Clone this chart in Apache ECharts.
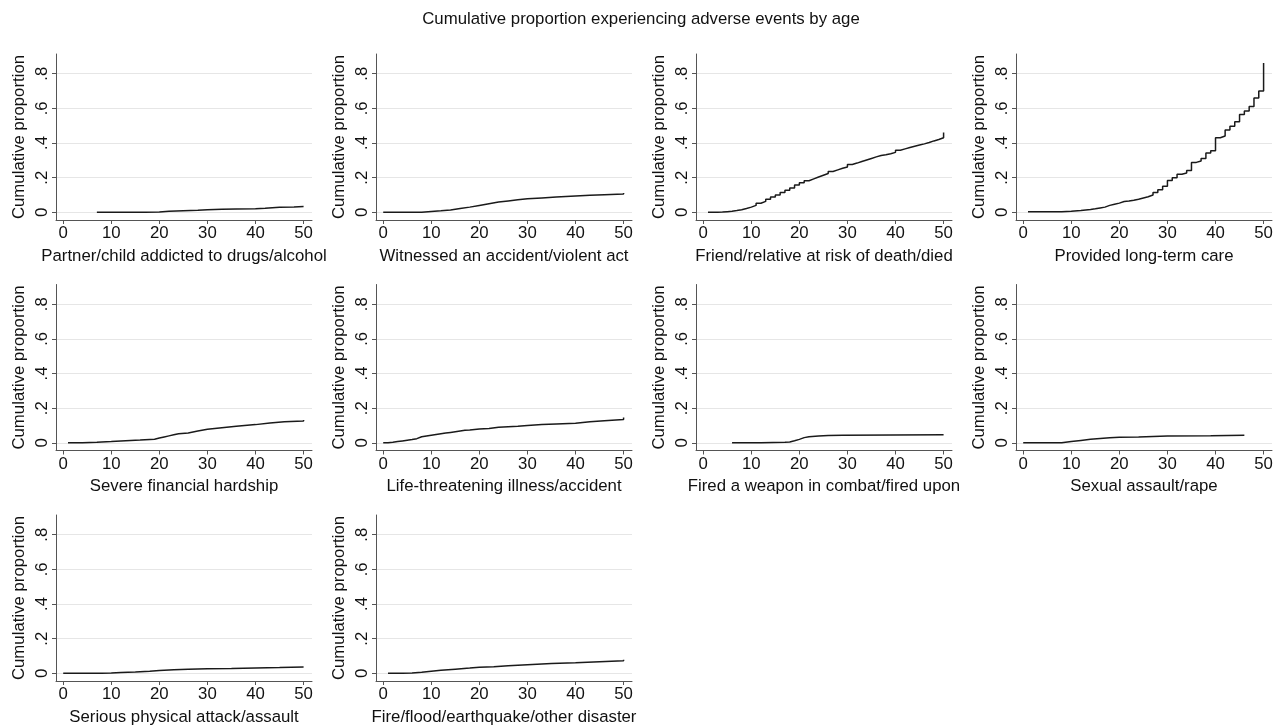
<!DOCTYPE html>
<html>
<head>
<meta charset="utf-8">
<script src="https://cdn.jsdelivr.net/npm/echarts@6/dist/echarts.min.js"></script>
<style>
html,body{margin:0;padding:0;background:#fff;}
#chart{width:1282px;height:728px;}
</style>
</head>
<body>
<div id="chart"></div>
<script>
// ---- data ----
const chartTitle = 'Cumulative proportion experiencing adverse events by age';
const yAxisTitle = 'Cumulative proportion';
const panelTitles = [
  'Partner/child addicted to drugs/alcohol',
  'Witnessed an accident/violent act',
  'Friend/relative at risk of death/died',
  'Provided long-term care',
  'Severe financial hardship',
  'Life-threatening illness/accident',
  'Fired a weapon in combat/fired upon',
  'Sexual assault/rape',
  'Serious physical attack/assault',
  'Fire/flood/earthquake/other disaster'
];
const xTicks = [0, 10, 20, 30, 40, 50];
const yTicks = [0, 0.2, 0.4, 0.6, 0.8];
const yTickLabels = ['0', '.2', '.4', '.6', '.8'];

const agesPartner = [7, 12, 17, 20, 22, 25, 28, 30, 33, 36, 40, 42, 45, 48, 50];
const valsPartner = [0, 0.001, 0.002, 0.006, 0.009, 0.012, 0.015, 0.017, 0.019, 0.021, 0.024, 0.029, 0.031, 0.033, 0.036];

const agesWitnessed = [0, 6, 8, 10, 12, 14, 16, 18, 20, 22, 24, 26, 28, 30, 33, 36, 40, 43, 46, 50];
const valsWitnessed = [0, 0.001, 0.005, 0.009, 0.014, 0.022, 0.03, 0.04, 0.05, 0.059, 0.066, 0.072, 0.078, 0.083, 0.088, 0.094, 0.098, 0.101, 0.105, 0.111];

const agesFriend = [1,2,3,4,5,6,7,8,9,10,11,12,13,14,15,16,17,18,19,20,21,22,23,24,25,26,27,28,29,30,31,32,33,34,35,36,37,38,39,40,41,42,43,44,45,46,47,48,49,50];
const valsFriend = [0,0.001,0.002,0.004,0.006,0.01,0.015,0.022,0.03,0.04,0.052,0.063,0.075,0.088,0.1,0.115,0.128,0.14,0.157,0.17,0.182,0.193,0.204,0.214,0.224,0.236,0.245,0.254,0.262,0.276,0.284,0.293,0.302,0.311,0.32,0.328,0.332,0.338,0.346,0.358,0.366,0.374,0.381,0.388,0.395,0.403,0.412,0.42,0.43,0.46];

const agesCare = [1,5,8,10,12,13,14,15,16,17,18,19,20,21,22,23,24,25,26,27,28,29,30,31,32,33,34,35,36,37,38,39,40,41,42,43,44,45,46,47,48,49,50];
const valsCare = [0.003,0.004,0.006,0.01,0.013,0.016,0.02,0.025,0.03,0.04,0.047,0.053,0.062,0.065,0.07,0.076,0.083,0.09,0.1,0.115,0.13,0.151,0.183,0.2,0.22,0.227,0.242,0.288,0.296,0.31,0.342,0.355,0.43,0.44,0.475,0.496,0.522,0.564,0.585,0.61,0.66,0.70,0.862];

const agesFinancial = [1, 4, 7, 10, 13, 16, 19, 20, 21, 22, 23, 24, 26, 28, 30, 33, 36, 40, 43, 46, 50];
const valsFinancial = [0, 0.003, 0.007, 0.012, 0.016, 0.021, 0.028, 0.034, 0.04, 0.046, 0.052, 0.057, 0.068, 0.078, 0.087, 0.095, 0.105, 0.115, 0.121, 0.126, 0.131];

const agesIllness = [0,1,2,3,4,5,6,7,8,9,10,11,12,13,14,15,16,17,18,19,20,22,24,26,28,30,33,36,40,43,46,50];
const valsIllness = [0,0.003,0.007,0.011,0.015,0.019,0.024,0.035,0.04,0.044,0.048,0.052,0.056,0.06,0.064,0.068,0.072,0.074,0.077,0.08,0.082,0.09,0.093,0.096,0.1,0.105,0.109,0.113,0.121,0.127,0.134,0.146];

const agesWeapon = [6, 12, 17, 18, 19, 20, 21, 22, 24, 26, 29, 50];
const valsWeapon = [0, 0.003, 0.005, 0.012, 0.02, 0.03, 0.035, 0.039, 0.042, 0.044, 0.047, 0.047];

const agesSexual = [0, 6, 8, 10, 12, 14, 16, 18, 20, 24, 30, 39, 46];
const valsSexual = [0, 0.001, 0.008, 0.014, 0.02, 0.025, 0.029, 0.032, 0.034, 0.04, 0.041, 0.044, 0.044];

const agesAttack = [0, 8, 10, 12, 15, 18, 20, 23, 26, 30, 35, 40, 45, 50];
const valsAttack = [0, 0.002, 0.005, 0.008, 0.012, 0.016, 0.02, 0.023, 0.026, 0.028, 0.031, 0.033, 0.036, 0.04];

const agesDisaster = [1, 4, 6, 8, 10, 12, 15, 18, 20, 23, 26, 30, 35, 40, 45, 50];
const valsDisaster = [0, 0.002, 0.006, 0.012, 0.018, 0.024, 0.03, 0.035, 0.038, 0.044, 0.05, 0.056, 0.061, 0.067, 0.072, 0.079];

const panelAges = [agesPartner, agesWitnessed, agesFriend, agesCare, agesFinancial, agesIllness, agesWeapon, agesSexual, agesAttack, agesDisaster];
const panelVals = [valsPartner, valsWitnessed, valsFriend, valsCare, valsFinancial, valsIllness, valsWeapon, valsSexual, valsAttack, valsDisaster];

// ---- layout ----
const FONT = 'Liberation Sans, Arial, Helvetica, sans-serif';
const FS = 16.8;
const TEXT = '#111';
const grids = [], xAxes = [], yAxes = [], series = [];
panelTitles.forEach((t, i) => {
  const col = i % 4, row = Math.floor(i / 4);
  grids.push({left: 56 + col * 320, top: 54 + row * 230.5, width: 256, height: 166, containLabel: false});
  xAxes.push({
    gridIndex: i, type: 'value', min: -1.5, max: 51.75,
    name: t, nameLocation: 'middle', nameGap: 27.5,
    nameTextStyle: {fontFamily: FONT, fontSize: FS, color: TEXT},
    axisLine: {show: true, onZero: false, lineStyle: {color: '#555', width: 1}},
    axisTick: {show: true, inside: false, length: 4, customValues: xTicks, lineStyle: {color: '#555'}},
    axisLabel: {customValues: xTicks, margin: 5, fontFamily: FONT, fontSize: FS, color: TEXT},
    splitLine: {show: false}
  });
  yAxes.push({
    gridIndex: i, type: 'value', min: -0.0443, max: 0.9134,
    name: yAxisTitle, nameLocation: 'middle', nameGap: 28, nameRotate: 90,
    nameTextStyle: {fontFamily: FONT, fontSize: FS, color: TEXT},
    axisLine: {show: true, onZero: false, lineStyle: {color: '#555', width: 1}},
    axisTick: {show: true, inside: false, length: 4, customValues: yTicks, lineStyle: {color: '#555'}},
    axisLabel: {customValues: yTicks, rotate: 90, margin: 5, fontFamily: FONT, fontSize: FS, color: TEXT,
      formatter: v => { const k = yTicks.findIndex(y => Math.abs(y - v) < 1e-9); return k >= 0 ? yTickLabels[k] : ''; }},
    splitLine: {show: true, lineStyle: {color: '#e6e6e6', width: 1}}
  });
  series.push({
    type: 'line', xAxisIndex: i, yAxisIndex: i, step: 'end', showSymbol: false, symbol: 'none',
    lineStyle: {color: '#1a1a1a', width: 1.5}, silent: true,
    data: panelAges[i].map((a, j) => [a, panelVals[i][j]])
  });
});

const chart = echarts.init(document.getElementById('chart'), null, {renderer: 'canvas'});
chart.setOption({
  animation: false,
  backgroundColor: '#fff',
  title: {text: chartTitle, left: 'center', top: 11, padding: 0,
    textStyle: {fontFamily: FONT, fontSize: FS, fontWeight: 'normal', color: TEXT}},
  grid: grids, xAxis: xAxes, yAxis: yAxes, series: series
});
</script>
</body>
</html>
